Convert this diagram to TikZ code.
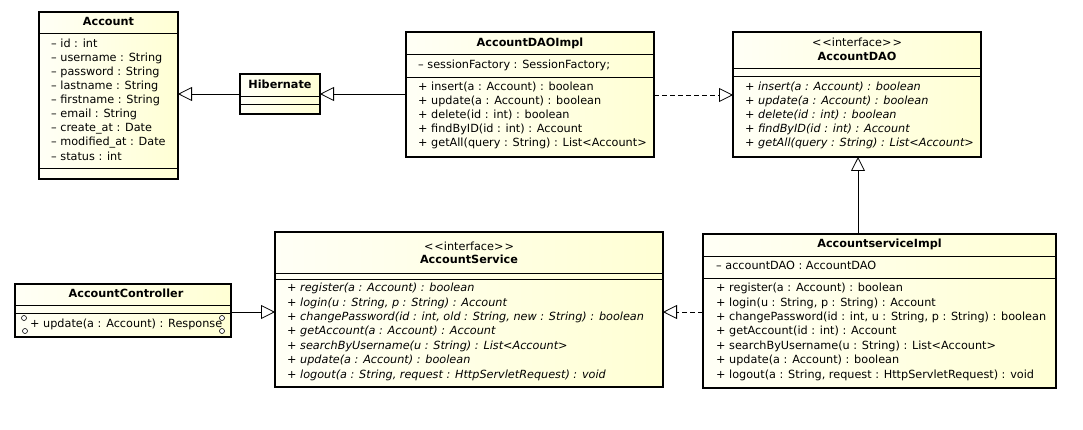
\documentclass[tikz,border=0pt]{standalone}
\usepackage{fontspec}
\setmainfont{DejaVu Sans}
\usetikzlibrary{arrows.meta,backgrounds}

\definecolor{clsfill}{HTML}{FFFFD4}
\definecolor{clsfillL}{HTML}{FFFFF6}
\definecolor{boxshade}{HTML}{DADADA}
\definecolor{linkshade}{HTML}{E0E0E0}

\tikzset{
  x=1pt, y=-1pt,
  cls/.style={draw, line width=1.6pt, left color=clsfillL, right color=clsfill,
              anchor=north west, inner sep=0pt, outer sep=0pt},
  sep/.style={line width=0.8pt},
  txt/.style={anchor=mid west, inner sep=0pt, font=\fontsize{11.25}{13}\selectfont},
  itxt/.style={txt, font=\fontsize{11.25}{13}\selectfont\itshape},
  ttl/.style={anchor=mid, inner sep=0pt, font=\fontsize{11.25}{13}\selectfont\bfseries},
  stereo/.style={anchor=mid, inner sep=0pt, font=\fontsize{11.25}{13}\selectfont},
  gen/.style={line width=0.8pt, -{Triangle[open, length=14pt, width=14pt, line width=0.8pt]}},
  real/.style={gen, dash pattern=on 5pt off 3pt},
  linkshadow/.style={draw=linkshade, line width=0.8pt,
              -{Triangle[open, length=14pt, width=14pt, line width=0.8pt]}},
  bshadow/.style={fill=boxshade},
  port/.style={draw, line width=0.6pt, fill=white, circle, inner sep=0pt, minimum size=5pt}
}

\begin{document}
\begin{tikzpicture}
\fill[white] (0,0) rectangle (1083,430);
\useasboundingbox (0,0) rectangle (1083,430);

% ---- class boxes ----
\node[cls, minimum width=139pt, minimum height=167pt] (acc) at (39,12) {};
\node[cls, minimum width=80pt,  minimum height=40pt]  (hib) at (240,74) {};
\node[cls, minimum width=248pt, minimum height=125pt] (daoimpl) at (406,32) {};
\node[cls, minimum width=248pt, minimum height=125pt] (dao) at (733,32) {};
\node[cls, minimum width=216pt, minimum height=53pt]  (ctrl) at (15,284) {};
\node[cls, minimum width=388pt, minimum height=155pt] (svc) at (275,232) {};
\node[cls, minimum width=353pt, minimum height=154pt] (svcimpl) at (703,234) {};

% ---- drop shadows ----
\begin{scope}[on background layer]
  \foreach \b in {acc,hib,daoimpl,dao,ctrl,svc,svcimpl}
    \fill[bshadow] ([shift={(5,5)}]\b.north west) rectangle ([shift={(5,5)}]\b.south east);
  \begin{scope}[shift={(4,4)}]
    \draw[linkshadow] (hib.west |- 0,94) -- (acc.east |- 0,94);
    \draw[linkshadow] (daoimpl.west |- 0,94) -- (hib.east |- 0,94);
    \draw[linkshadow] (daoimpl.east |- 0,95) -- (dao.west |- 0,95);
    \draw[linkshadow] (svcimpl.north -| 858,0) -- (dao.south -| 858,0);
    \draw[linkshadow] (ctrl.east |- 0,312) -- (svc.west |- 0,312);
    \draw[linkshadow] (svcimpl.west |- 0,312) -- (svc.east |- 0,312);
  \end{scope}
\end{scope}

% ---- compartment separators ----
\foreach \b/\y in {acc/33, acc/168, hib/96, hib/104, daoimpl/54, daoimpl/77,
                   dao/68, dao/76, ctrl/305, ctrl/313, svc/273, svc/279,
                   svcimpl/256, svcimpl/278}
  \draw[sep] (\b.west |- 0,\y) -- (\b.east |- 0,\y);

% ---- Account ----
\node[ttl] (acc-t) at (108.5,23) {Account};
\foreach \t [count=\i] in {-- id : int, -- username : String, -- password : String,
    -- lastname : String, -- firstname : String, -- email : String,
    -- create\_at : Date, -- modified\_at : Date, -- status : int}
  \node[txt] (acc-\i) at (51,44.5+14.1*\i-14.1) {\t};

% ---- Hibernate ----
\node[ttl] (hib-t) at (280,86) {Hibernate};

% ---- AccountDAOImpl ----
\node[ttl] (daoimpl-t) at (530,44) {AccountDAOImpl};
\node[txt] (daoimpl-a) at (418,66) {-- sessionFactory : SessionFactory;};
\foreach \t [count=\i] in {+ insert(a : Account) : boolean, + update(a : Account) : boolean,
    + delete(id : int) : boolean, + findByID(id : int) : Account,
    + getAll(query : String) : List<Account>}
  \node[txt] (daoimpl-\i) at (418,88+14*\i-14) {\t};

% ---- AccountDAO ----
\node[stereo] (dao-s) at (857,44) {<\kern1pt<interface>\kern1pt>};
\node[ttl] (dao-t) at (857,58) {AccountDAO};
\foreach \t [count=\i] in {+ insert(a : Account) : boolean, + update(a : Account) : boolean,
    + delete(id : int) : boolean, + findByID(id : int) : Account,
    + getAll(query : String) : List<Account>}
  \node[itxt] (dao-\i) at (745,88+14*\i-14) {\t};

% ---- AccountController ----
\node[ttl] (ctrl-t) at (126,295) {AccountController};
\node[txt] (ctrl-1) at (30,325) {+ update(a : Account) : Response};
\node[port] (ctrl-p1) at (24,318) {};
\node[port] (ctrl-p2) at (25,331) {};
\node[port] (ctrl-p3) at (222,318) {};
\node[port] (ctrl-p4) at (222,331) {};

% ---- AccountService ----
\node[stereo] (svc-s) at (469,248) {<\kern1pt<interface>\kern1pt>};
\node[ttl] (svc-t) at (469,261) {AccountService};
\foreach \t [count=\i] in {+ register(a : Account) : boolean,
    {+ login(u : String, p : String) : Account},
    {+ changePassword(id : int, old : String, new : String) : boolean},
    + getAccount(a : Account) : Account,
    + searchByUsername(u : String) : List<Account>,
    + update(a : Account) : boolean,
    {+ logout(a : String, request : HttpServletRequest) : void}}
  \node[itxt] (svc-\i) at (287,289+14.4*\i-14.4) {\t};

% ---- AccountserviceImpl ----
\node[ttl] (svcimpl-t) at (879.5,245) {AccountserviceImpl};
\node[txt] (svcimpl-a) at (716,267) {-- accountDAO : AccountDAO};
\foreach \t [count=\i] in {+ register(a : Account) : boolean,
    {+ login(u : String, p : String) : Account},
    {+ changePassword(id : int, u : String, p : String) : boolean},
    + getAccount(id : int) : Account,
    + searchByUsername(u : String) : List<Account>,
    + update(a : Account) : boolean,
    {+ logout(a : String, request : HttpServletRequest) : void}}
  \node[txt] (svcimpl-\i) at (716,289+14.4*\i-14.4) {\t};

% ---- relationships ----
\draw[gen]  (hib.west |- 0,94) -- (acc.east |- 0,94);
\draw[gen]  (daoimpl.west |- 0,94) -- (hib.east |- 0,94);
\draw[real] (daoimpl.east |- 0,95) -- (dao.west |- 0,95);
\draw[gen]  (svcimpl.north -| 858,0) -- (dao.south -| 858,0);
\draw[gen]  (ctrl.east |- 0,312) -- (svc.west |- 0,312);
\draw[real] (svcimpl.west |- 0,312) -- (svc.east |- 0,312);
\end{tikzpicture}
\end{document}
